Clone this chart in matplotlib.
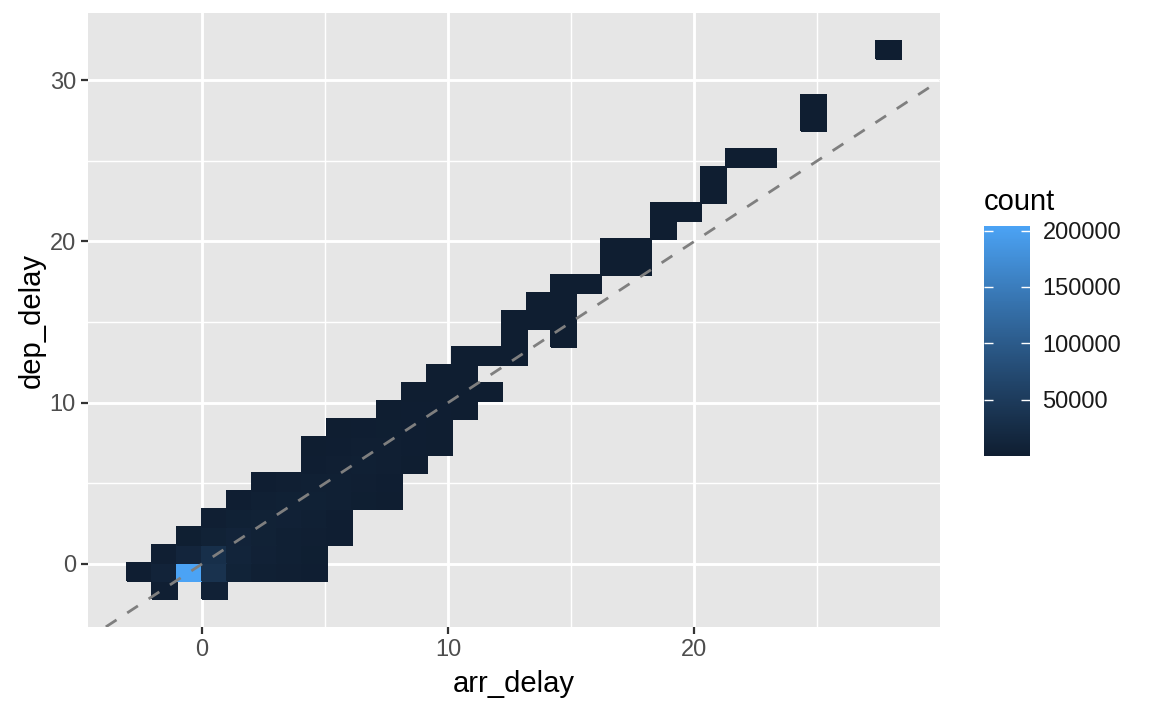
import numpy as np
import matplotlib
matplotlib.use("Agg")
import matplotlib.pyplot as plt
from matplotlib.colors import ListedColormap

plt.rcParams['font.family'] = ['Liberation Sans', 'DejaVu Sans']

# bin2d cells: arr_delay / dep_delay bin centres and counts
arr_delay = [-1.52, 0.51,
             -2.54, -1.52, -0.51, 0.51, 1.52, 2.54, 3.55, 4.56,
             -1.52, -0.51, 0.51, 1.52, 2.54, 3.55, 4.56,
             -0.51, 0.51, 1.52, 2.54, 3.55, 4.56, 5.58,
             0.51, 1.52, 2.54, 3.55, 4.56, 5.58,
             1.52, 2.54, 3.55, 4.56, 5.58, 6.59, 7.61,
             2.54, 3.55, 4.56, 5.58, 6.59, 7.61,
             4.56, 5.58, 6.59, 7.61, 8.62,
             4.56, 5.58, 6.59, 7.61, 8.62, 9.63,
             5.58, 6.59, 7.61, 8.62, 9.63,
             7.61, 8.62, 9.63, 10.65,
             8.62, 9.63, 10.65, 11.66,
             9.63, 10.65,
             10.65, 11.66, 12.68,
             12.68, 14.70,
             12.68, 13.69, 14.70,
             13.69, 14.70,
             14.70, 15.72,
             16.73, 17.75,
             16.73, 17.75,
             18.76,
             18.76, 19.77,
             20.79,
             20.79,
             21.80, 22.82,
             24.84,
             24.84,
             27.89]
dep_delay = [-1.62] * 2 + [-0.50] * 8 + [0.61] * 7 + [1.73] * 7 + [2.85] * 6 \
    + [3.96] * 7 + [5.08] * 6 + [6.19] * 5 + [7.31] * 6 + [8.43] * 5 \
    + [9.54] * 4 + [10.66] * 4 + [11.77] * 2 + [12.89] * 3 + [14.01] * 2 \
    + [15.12] * 3 + [16.24] * 2 + [17.35] * 2 + [18.47] * 2 + [19.59] * 2 \
    + [20.70] + [21.82] * 2 + [22.93] + [24.05] + [25.16] * 2 + [27.40] \
    + [28.51] + [31.86]
count = [3000, 6000,
         1500, 10000, 204000, 35000, 9000, 4000, 2500, 1500,
         3000, 13000, 30000, 11000, 6000, 3500, 2000,
         2000, 7000, 10000, 7000, 4500, 3000, 1200,
         3000, 5000, 7000, 6000, 4000, 1500,
         1500, 3500, 5000, 5000, 4000, 2000, 800,
         1200, 2500, 4000, 4000, 2500, 1000,
         1500, 3000, 3500, 2500, 800,
         600, 1500, 2500, 2500, 1500, 500,
         700, 1300, 1800, 1500, 700,
         800, 1200, 1200, 500,
         500, 800, 800, 400,
         400, 500,
         300, 400, 300,
         200, 150,
         200, 300, 250,
         150, 200,
         120, 150,
         100, 90,
         80, 100,
         60,
         50, 40,
         30,
         30,
         20, 15,
         10,
         8,
         5]

cb_ticks = [50000, 100000, 150000, 200000]

# bin edges (31 x 31 bins)
wx, wy = 1.014, 1.116
xedges = -3 * wx + wx * np.arange(32)
yedges = -2.176 + wy * np.arange(32)

M = np.array([[0.4124, 0.3576, 0.1805], [0.2126, 0.7152, 0.0722], [0.0193, 0.1192, 0.9505]])
WHITE = np.array([0.95047, 1.0, 1.08883])


def to_lab(h):
    rgb = np.array([int(h[i:i + 2], 16) for i in (1, 3, 5)]) / 255
    c = np.where(rgb <= 0.04045, rgb / 12.92, ((rgb + 0.055) / 1.055) ** 2.4)
    xyz = M @ c / WHITE
    f = np.where(xyz > (6 / 29) ** 3, np.cbrt(xyz), xyz / (3 * (6 / 29) ** 2) + 4 / 29)
    return np.array([116 * f[1] - 16, 500 * (f[0] - f[1]), 200 * (f[1] - f[2])])


def from_lab(lab):
    fy = (lab[0] + 16) / 116
    f = np.array([fy + lab[1] / 500, fy, fy - lab[2] / 200])
    xyz = np.where(f > 6 / 29, f ** 3, 3 * (6 / 29) ** 2 * (f - 4 / 29)) * WHITE
    c = np.clip(np.linalg.inv(M) @ xyz, 0, 1)
    return np.where(c <= 0.0031308, 12.92 * c, 1.055 * c ** (1 / 2.4) - 0.055)


# gradient low -> high, interpolated in Lab like ggplot
lo, hi = to_lab('#0F1E31'), to_lab('#4BA3F5')
cmap = ListedColormap([from_lab(lo + t * (hi - lo)) for t in np.linspace(0, 1, 256)])

H, _, _ = np.histogram2d(arr_delay, dep_delay, bins=[xedges, yedges], weights=count)
H = np.ma.masked_equal(H.T, 0)

fig = plt.figure(figsize=(11.52, 7.11), dpi=100)
ax = fig.add_axes([88.4 / 1152, (711 - 626.9) / 711, (939.6 - 88.4) / 1152, (626.9 - 13.1) / 711])
ax.set_facecolor('#E6E6E6')
mesh = ax.pcolormesh(xedges, yedges, H, cmap=cmap, vmin=min(count), vmax=max(count),
                     edgecolors='face', linewidth=0.3, zorder=2)
ax.axline((0, 0), slope=1, color='#7F7F7F', lw=2.0, linestyle=(0, (4.6, 4.6)), zorder=3)

ax.set_xlim(-4.614, 29.96)
ax.set_ylim(-3.906, 34.15)
ax.set_xticks([0, 10, 20])
ax.set_yticks([0, 10, 20, 30])
ax.set_xticks([5, 15, 25], minor=True)
ax.set_yticks([5, 15, 25], minor=True)
ax.grid(True, which='major', color='white', lw=2.1, zorder=1)
ax.grid(True, which='minor', color='white', lw=1.05, zorder=1)
ax.set_axisbelow(True)
for s in ax.spines.values():
    s.set_visible(False)
ax.tick_params(which='major', length=5, width=1.6, color='#333333', labelsize=17,
               labelcolor='#4D4D4D', pad=4)
ax.tick_params(which='minor', length=0)
ax.set_xlabel('arr_delay', fontsize=21, labelpad=6)
ax.set_ylabel('dep_delay', fontsize=21, labelpad=3)

cax = fig.add_axes([984 / 1152, (711 - 456) / 711, 46 / 1152, 230 / 711])
cb = fig.colorbar(mesh, cax=cax)
cb.outline.set_visible(False)
cb.set_ticks(cb_ticks)
cb.set_ticklabels([str(t) for t in cb_ticks])
cax.minorticks_off()
cax.tick_params(direction='in', left=True, right=True, labelleft=False, labelright=True,
                color='white', length=6.5, width=1, labelsize=17, labelcolor='#1A1A1A', pad=9)
fig.text(984 / 1152, (711 - 210) / 711, 'count', fontsize=21, ha='left', va='baseline')

fig.savefig('out.png', dpi=100)
